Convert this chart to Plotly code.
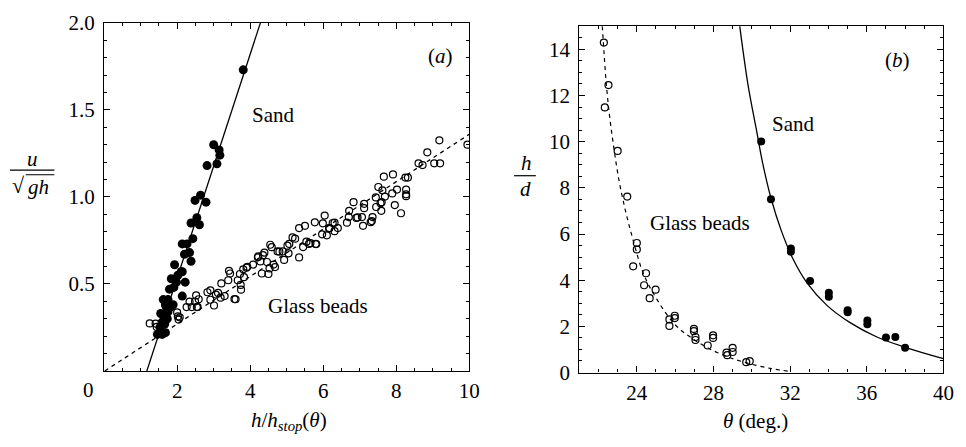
import plotly.graph_objects as go

# ---------------- Panel (a) data ----------------
sand_a_x = [3.81, 3.00, 3.15, 3.17, 3.09, 2.82, 2.64, 2.49, 2.79, 2.54, 2.38, 2.61, 2.43, 2.14,
            2.27, 2.34, 2.20, 2.38, 1.93, 2.14, 2.02, 1.84, 1.98, 2.22, 1.79, 1.91, 2.14, 1.62,
            1.75, 1.68, 1.82, 1.89, 1.75, 1.55, 1.64, 1.73, 1.59, 1.53, 1.46, 1.59, 1.68, 1.61,
            1.66, 1.70, 1.84, 2.11]
sand_a_y = [1.73, 1.30, 1.27, 1.24, 1.19, 1.18, 1.01, 0.98, 0.97, 0.88, 0.85, 0.84, 0.76, 0.73,
            0.73, 0.68, 0.67, 0.63, 0.61, 0.57, 0.55, 0.53, 0.51, 0.51, 0.47, 0.48, 0.43, 0.41,
            0.41, 0.38, 0.37, 0.38, 0.34, 0.33, 0.31, 0.30, 0.28, 0.25, 0.21, 0.21, 0.22, 0.22,
            0.27, 0.37, 0.37, 0.57]

glass_a_x = [1.25, 1.44, 1.59, 2.00, 2.02, 2.04, 2.26, 2.34, 2.52, 2.40, 2.54, 2.59, 2.83, 2.91,
             2.91, 3.01, 3.06, 3.12, 3.19, 3.30, 3.21, 3.42, 3.45, 3.40, 3.60, 3.66, 3.74, 3.75,
             3.72, 3.81, 3.90, 3.83, 4.08, 4.21, 4.28, 4.35, 4.39, 4.32, 4.53, 4.50, 4.46, 4.55,
             4.59, 4.64, 4.68, 4.75, 4.89, 4.93, 1.41, 2.07, 2.49, 2.56, 3.57, 3.92, 4.22, 4.80,
             5.05, 5.07, 5.16, 5.34, 5.34, 5.45, 5.50, 5.54, 5.61, 5.77, 5.79, 5.99, 6.04, 5.97,
             6.10, 6.17, 6.31, 6.31, 6.40, 6.65, 6.70, 6.71, 6.83, 6.91, 7.06, 7.09, 7.12, 7.12,
             7.33, 7.35, 7.44, 7.45, 7.51, 7.59, 7.60, 7.62, 7.66, 7.69, 7.89, 7.91, 7.96, 8.02,
             8.13, 8.25, 8.27, 8.27, 8.32, 8.61, 8.72, 8.85, 9.04, 9.18, 9.20, 9.95, 5.23, 5.02,
             5.65, 5.81, 6.16, 6.26, 6.94, 7.30, 7.57, 8.27]
glass_a_y = [0.273, 0.253, 0.268, 0.336, 0.313, 0.295, 0.367, 0.398, 0.434, 0.367, 0.367, 0.412,
             0.452, 0.463, 0.409, 0.376, 0.439, 0.448, 0.421, 0.430, 0.503, 0.575, 0.560, 0.521,
             0.412, 0.521, 0.494, 0.467, 0.557, 0.584, 0.593, 0.539, 0.611, 0.653, 0.629, 0.665,
             0.680, 0.560, 0.589, 0.557, 0.626, 0.725, 0.711, 0.611, 0.597, 0.687, 0.687, 0.638,
             0.272, 0.308, 0.399, 0.368, 0.413, 0.598, 0.658, 0.685,
             0.676, 0.730, 0.767, 0.821, 0.652, 0.712, 0.834, 0.743, 0.730, 0.854, 0.730, 0.848,
             0.893, 0.785, 0.779, 0.821, 0.852, 0.803, 0.821, 0.852, 0.884, 0.920, 0.970, 0.879,
             0.884, 0.834, 0.960, 0.935, 0.861, 0.884, 0.997, 0.942, 1.057, 0.920, 0.970, 1.038,
             1.116, 1.002, 1.020, 1.129, 0.953, 1.042, 0.906, 1.111, 1.042, 1.015, 1.111, 1.193,
             1.183, 1.256, 1.193, 1.325, 1.193, 1.300, 0.760, 0.720, 0.734, 0.729, 0.819, 0.850,
             0.882, 0.855, 0.964, 1.004]

sand_line_a_x = [1.17, 4.28]
sand_line_a_y = [0.0, 2.0]
glass_line_a_x = [0.02, 10.0]
glass_line_a_y = [0.0, 1.36]

# ---------------- Panel (b) data ----------------
glass_b_theta = [22.28, 22.52, 22.33, 23.00, 23.50, 24.00, 24.00, 23.81, 24.48, 24.38, 24.98,
                 24.67, 25.70, 25.70, 25.98, 25.98, 26.98, 26.98, 27.06, 27.06, 27.70, 27.98,
                 27.98, 28.68, 28.72, 29.00, 29.00, 29.71, 29.89]
glass_b_h = [14.29, 12.45, 11.48, 9.60, 7.62, 5.61, 5.33, 4.60, 4.30, 3.78, 3.59, 3.22, 2.30,
             2.02, 2.46, 2.36, 1.89, 1.79, 1.41, 1.54, 1.17, 1.61, 1.50, 0.86, 0.75, 1.07, 0.89,
             0.45, 0.49]

sand_b_theta = [30.49, 31.00, 32.04, 32.04, 33.04, 34.02, 34.02, 35.00, 35.00, 36.03, 36.03,
                37.00, 37.49, 38.00]
sand_b_h = [10.01, 7.50, 5.37, 5.23, 3.96, 3.46, 3.28, 2.70, 2.61, 2.25, 2.09, 1.52, 1.54, 1.07]

glass_curve_theta = [22.20, 22.29, 22.41, 22.58, 22.80, 23.06, 23.41, 23.84, 24.35, 25.04,
                     25.98, 27.01, 28.22, 29.59, 30.97, 32.0]
glass_curve_h = [15.0, 13.84, 12.47, 11.1, 9.74, 8.37, 7.0, 5.64, 4.27, 3.18, 2.09, 1.41, 0.86,
                 0.45, 0.18, 0.05]

sand_curve_theta = [29.37, 29.80, 30.23, 30.57, 31.00, 31.52, 32.12, 32.89, 33.92, 35.13,
                    36.50, 38.05, 40.0]
sand_curve_h = [15.0, 12.47, 10.56, 9.06, 7.56, 6.19, 4.97, 3.87, 2.91, 2.16, 1.55, 1.08, 0.60]

# tick labels
xa_ticks = [2, 4, 6, 8, 10]
ya_ticks = [0.5, 1.0, 1.5, 2.0]
ya_ticktext = ["0.5", "1.0", "1.5", "2.0"]
xb_ticks = [24, 28, 32, 36, 40]
yb_ticks = [0, 2, 4, 6, 8, 10, 12, 14]

W, H = 966, 447
FONT = "Liberation Serif, Times New Roman, DejaVu Serif, serif"


def px(x):
    return x / W


def py(y):
    return 1 - y / H


fig = go.Figure()

line_style = dict(color="black", width=1.3)
fig.add_trace(go.Scatter(x=sand_line_a_x, y=sand_line_a_y, mode="lines", line=line_style,
                         xaxis="x", yaxis="y", hoverinfo="skip"))
fig.add_trace(go.Scatter(x=glass_line_a_x, y=glass_line_a_y, mode="lines",
                         line=dict(color="black", width=1.3, dash="4px,4px"),
                         xaxis="x", yaxis="y", hoverinfo="skip"))
fig.add_trace(go.Scatter(x=glass_a_x, y=glass_a_y, mode="markers",
                         marker=dict(symbol="circle-open", size=7, color="black", line=dict(width=1.2)),
                         xaxis="x", yaxis="y"))
fig.add_trace(go.Scatter(x=sand_a_x, y=sand_a_y, mode="markers",
                         marker=dict(symbol="circle", size=9, color="black"),
                         xaxis="x", yaxis="y"))

fig.add_trace(go.Scatter(x=glass_curve_theta, y=glass_curve_h, mode="lines", line_shape="spline",
                         line=dict(color="black", width=1.2, dash="4px,4px"),
                         xaxis="x2", yaxis="y2", hoverinfo="skip"))
fig.add_trace(go.Scatter(x=sand_curve_theta, y=sand_curve_h, mode="lines", line_shape="spline",
                         line=line_style, xaxis="x2", yaxis="y2", hoverinfo="skip"))
fig.add_trace(go.Scatter(x=glass_b_theta, y=glass_b_h, mode="markers",
                         marker=dict(symbol="circle-open", size=7, color="black", line=dict(width=1.2)),
                         xaxis="x2", yaxis="y2"))
fig.add_trace(go.Scatter(x=sand_b_theta, y=sand_b_h, mode="markers",
                         marker=dict(symbol="circle", size=8, color="black"),
                         xaxis="x2", yaxis="y2"))

axis_common = dict(showline=True, linecolor="black", linewidth=1.3, mirror="allticks",
                   ticks="inside", ticklen=6, tickwidth=1.2, tickcolor="black",
                   showgrid=False, zeroline=False, ticklabeloverflow="allow",
                   tickfont=dict(family=FONT, size=21, color="black"))

fig.update_layout(
    width=W, height=H, margin=dict(l=0, r=0, t=0, b=0),
    font=dict(family=FONT, color="black"),
    paper_bgcolor="white", plot_bgcolor="white", showlegend=False,
    xaxis=dict(domain=[px(105.3), px(474.7)], range=[0, 10], tickvals=xa_ticks,
               minor=dict(dtick=0.5, ticks="inside", ticklen=3, tickcolor="black"),
               anchor="y", ticklabelstandoff=1, **axis_common),
    yaxis=dict(domain=[py(379.3), py(11.5)], range=[0, 2], tickvals=ya_ticks, ticktext=ya_ticktext,
               minor=dict(dtick=0.1, ticks="inside", ticklen=3, tickcolor="black"),
               anchor="x", ticklabelstandoff=4, **axis_common),
    xaxis2=dict(domain=[px(586), px(954.3)], range=[21, 40], tickvals=xb_ticks,
                minor=dict(dtick=1, ticks="inside", ticklen=3, tickcolor="black"),
                anchor="y2", ticklabelstandoff=1, **axis_common),
    yaxis2=dict(domain=[py(381), py(15)], range=[0, 15], tickvals=yb_ticks,
                minor=dict(dtick=0.5, ticks="inside", ticklen=3, tickcolor="black"),
                anchor="x2", ticklabelstandoff=4, **axis_common),
)


def note(text, x, y, size=21, xanchor="center"):
    fig.add_annotation(text=text, x=px(x), y=py(y), xref="paper", yref="paper",
                       showarrow=False, font=dict(family=FONT, size=size, color="black"),
                       xanchor=xanchor, yanchor="middle", borderpad=0)


# panel (a) texts
note("Sand", 277, 109)
note("Glass beads", 322, 311)
note("(<i>a</i>)", 446, 46, size=21)
note("0", 90, 399, size=21)
note("<i>h</i>/<i>h</i><sub><i>stop</i></sub>(<i>θ</i>)", 292, 432, size=21)
note("<i>u</i>", 33, 155, size=21)
note("√", 19, 183, size=22)
note("<i>gh</i>", 39, 185, size=21)
# panel (b) texts
note("Sand", 803, 118)
note("Glass beads", 708, 223)
note("(<i>b</i>)", 908, 51, size=21)
note("<i>θ</i> (deg.)", 764, 432, size=21)
note("<i>h</i>", 533, 160, size=21)
note("<i>d</i>", 532, 187, size=21)

# fraction bars
fig.add_shape(type="line", xref="paper", yref="paper", x0=px(10), x1=px(55), y0=py(167), y1=py(167),
              line=dict(color="black", width=1.2))
fig.add_shape(type="line", xref="paper", yref="paper", x0=px(26), x1=px(55), y0=py(172), y1=py(172),
              line=dict(color="black", width=1))
fig.add_shape(type="line", xref="paper", yref="paper", x0=px(520), x1=px(542), y0=py(173), y1=py(173),
              line=dict(color="black", width=1.2))

fig.write_html("out.html", config={"displayModeBar": False},
               post_script="document.body.style.margin='0';document.body.style.overflow='hidden';")
